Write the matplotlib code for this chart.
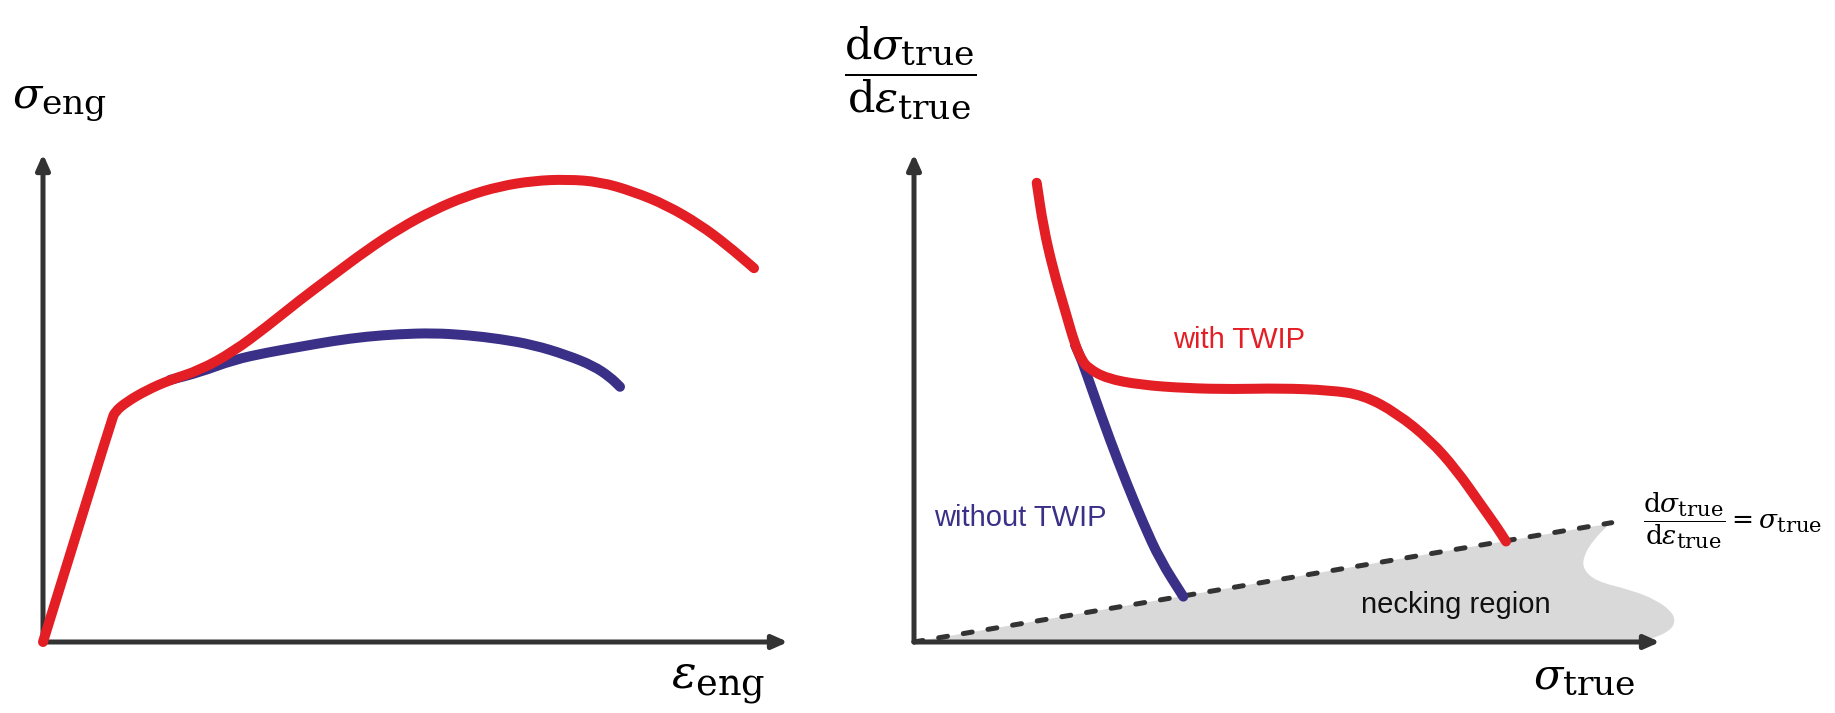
import matplotlib
matplotlib.use("Agg")
import matplotlib.pyplot as plt
import matplotlib._mathtext as _mt
from matplotlib.path import Path
from matplotlib.patches import PathPatch

# subscripts in the reference are only slightly smaller than the base symbol
_mt.SHRINK_FACTOR = 0.8

plt.rcParams['mathtext.fontset'] = 'dejavuserif'
plt.rcParams['font.family'] = ['Liberation Sans', 'DejaVu Sans']

# ---------------- data (normalised: axis origin = 0, arrow tip = 1) ----------------
# left panel: engineering stress-strain
left_red_x = [0.000, 0.0922, 0.0966, 0.1123, 0.1392, 0.1705, 0.2107, 0.2554, 0.3003,
              0.3450, 0.3897, 0.4345, 0.4792, 0.5239, 0.5687, 0.6134, 0.6581, 0.7030,
              0.7477, 0.7924, 0.8372, 0.8819, 0.9177, 0.9544]
left_red_y = [0.000, 0.455, 0.472, 0.492, 0.516, 0.537, 0.557, 0.595, 0.646,
              0.701, 0.752, 0.803, 0.848, 0.885, 0.914, 0.934, 0.945, 0.948,
              0.943, 0.923, 0.895, 0.855, 0.814, 0.766]
left_blue_x = [0.1705, 0.2107, 0.2554, 0.3003, 0.3450, 0.3897, 0.4345, 0.4792, 0.5239,
               0.5687, 0.6134, 0.6581, 0.7030, 0.7387, 0.7611, 0.7745]
left_blue_y = [0.537, 0.553, 0.578, 0.593, 0.605, 0.617, 0.626, 0.631, 0.633,
               0.629, 0.621, 0.609, 0.588, 0.566, 0.543, 0.523]

# right panel: strain hardening rate vs true stress
right_red_x = [0.1645, 0.1733, 0.1867, 0.2024, 0.2158, 0.2248, 0.2336, 0.2583, 0.3029,
               0.3655, 0.4280, 0.4906, 0.5576, 0.6023, 0.6471, 0.6917, 0.7275, 0.7587,
               0.7811, 0.7936]
right_red_y = [0.941, 0.851, 0.762, 0.680, 0.609, 0.578, 0.561, 0.540, 0.527,
               0.520, 0.518, 0.520, 0.516, 0.506, 0.469, 0.414, 0.352, 0.284,
               0.236, 0.206]
right_blue_x = [0.2158, 0.2248, 0.2403, 0.2627, 0.2851, 0.3074, 0.3298, 0.3610]
right_blue_y = [0.609, 0.578, 0.510, 0.414, 0.325, 0.243, 0.168, 0.093]

# Considere criterion line
limit_x = [0.0, 0.9353]
limit_y = [0.0, 0.2445]

# necking region outline (right edge, from line end down to the axis)
neck_x = [0.9353, 0.9307, 0.9106, 0.8972, 0.8972, 0.9151, 0.9598, 0.9956, 1.0178,
          1.0201, 1.0111, 0.9910, 0.9730]
neck_y = [0.2445, 0.240, 0.209, 0.175, 0.148, 0.124, 0.107, 0.086, 0.059,
          0.038, 0.021, 0.008, 0.000]

# ---------------- styling ----------------
W, H = 1835, 713
RED = '#E31E24'
BLUE = '#3A3087'
AXC = '#333333'
GREY = '#D9D9D9'
CURVE_LW = 7.2
AX_LW = 3.6

fig = plt.figure(figsize=(W / 100, H / 100), dpi=100)
fig.patch.set_facecolor('white')

def px(x, y):
    return (x / W, 1 - y / H)

def smooth_path(xs, ys, closed=False):
    """Quadratic-Bezier path through the midpoints of the read points."""
    pts = list(zip(xs, ys))
    verts = [pts[0]]
    codes = [Path.MOVETO]
    mid = lambda a, b: ((a[0] + b[0]) / 2, (a[1] + b[1]) / 2)
    verts.append(mid(pts[0], pts[1]))
    codes.append(Path.LINETO)
    for i in range(1, len(pts) - 1):
        verts += [pts[i], mid(pts[i], pts[i + 1])]
        codes += [Path.CURVE3, Path.CURVE3]
    verts.append(pts[-1])
    codes.append(Path.LINETO)
    if closed:
        verts.append(pts[0])
        codes.append(Path.CLOSEPOLY)
    return Path(verts, codes)

def curve(ax, xs, ys, color, z):
    patch = PathPatch(smooth_path(xs, ys), fill=False, edgecolor=color, lw=CURVE_LW,
                      capstyle='round', joinstyle='round', transform=ax.transData,
                      clip_on=False, zorder=z)
    ax.add_patch(patch)

ax1 = fig.add_axes([43 / W, (H - 642) / H, 745 / W, 488 / H])
ax2 = fig.add_axes([914 / W, (H - 642) / H, 746 / W, 488 / H])

for ax in (ax1, ax2):
    ax.set_xlim(0, 1)
    ax.set_ylim(0, 1)
    ax.axis('off')
    arrow = dict(arrowstyle='-|>,head_length=0.45,head_width=0.2', lw=AX_LW,
                 color=AXC, shrinkA=0, shrinkB=0, mutation_scale=20)
    ax.annotate('', xy=(1.0, 0), xytext=(0, 0), arrowprops=arrow,
                annotation_clip=False, zorder=1)
    ax.annotate('', xy=(0, 1.0), xytext=(0, 0), arrowprops=arrow,
                annotation_clip=False, zorder=1)

# left panel curves
curve(ax1, left_blue_x, left_blue_y, BLUE, 3)
curve(ax1, left_red_x, left_red_y, RED, 4)

# right panel: necking region
fill_x = [0.0] + neck_x + [0.0]
fill_y = [0.0] + neck_y + [0.0]
ax2.add_patch(PathPatch(smooth_path(fill_x, fill_y, closed=True), facecolor=GREY,
                        lw=0, transform=ax2.transData, clip_on=False, zorder=0))
ax2.plot(limit_x, limit_y, color=AXC, lw=AX_LW, linestyle=(0, (1.8, 3.2)),
         dash_capstyle='round', clip_on=False, zorder=2)
curve(ax2, right_blue_x, right_blue_y, BLUE, 3)
curve(ax2, right_red_x, right_red_y, RED, 4)

# ---------------- texts ----------------
fig.text(*px(12, 107), r'$\sigma_{\mathrm{eng}}$', fontsize=31, ha='left', va='baseline')
fig.text(*px(671, 688), r'$\varepsilon_{\mathrm{eng}}$', fontsize=33, ha='left', va='baseline')
fig.text(*px(1533, 688), r'$\sigma_{\mathrm{true}}$', fontsize=31, ha='left', va='baseline')
fig.text(*px(910, 73), r'$\dfrac{\mathrm{d}\sigma_{\mathrm{true}}}{\mathrm{d}\varepsilon_{\mathrm{true}}}$',
         fontsize=31, ha='center', va='center')
fig.text(*px(1643, 521), r'$\dfrac{\mathrm{d}\sigma_{\mathrm{true}}}{\mathrm{d}\varepsilon_{\mathrm{true}}} = \sigma_{\mathrm{true}}$',
         fontsize=19, ha='left', va='center')

fig.text(*px(1173, 348), 'with TWIP', color=RED, fontsize=21, ha='left', va='baseline')
fig.text(*px(934, 526), 'without TWIP', color=BLUE, fontsize=21, ha='left', va='baseline')
fig.text(*px(1361, 613), 'necking region', color='#111111', fontsize=21, ha='left', va='baseline')

fig.savefig('out.png', dpi=100, facecolor='white')
